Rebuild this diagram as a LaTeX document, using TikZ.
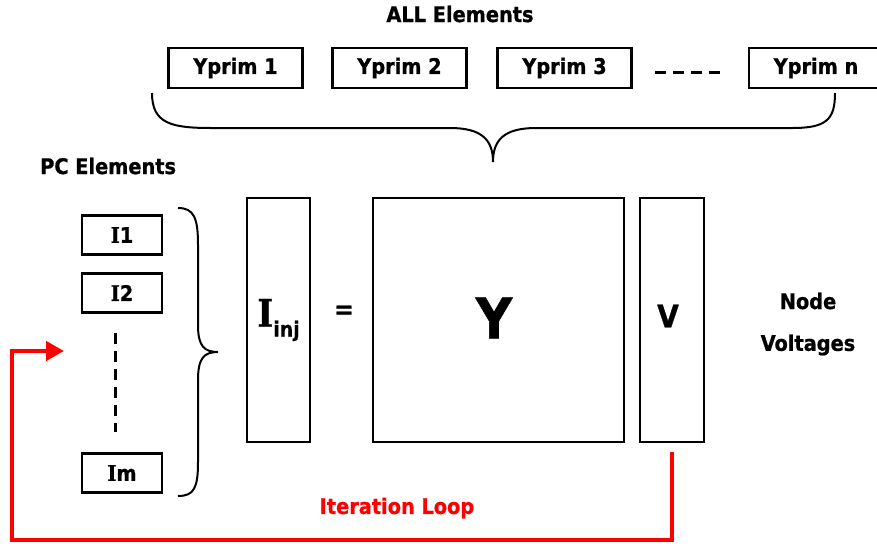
\documentclass[tikz,border=0pt]{standalone}
\usepackage{fontspec}
\setmainfont{DejaVu Sans Condensed}[BoldFont={DejaVu Sans Condensed Bold},BoldFeatures={FakeBold=0.8}]
\newfontfamily\serI{DejaVu Serif Condensed}[BoldFont={DejaVu Serif Condensed Bold},BoldFeatures={FakeBold=0.8}]
\newcommand{\SI}{{\serI\bfseries I}}
\usetikzlibrary{arrows.meta}
\definecolor{loopred}{RGB}{255,0,0}
\begin{document}
\begin{tikzpicture}[x=1pt,y=-1pt,
  every node/.style={font=\bfseries\fontsize{21.5}{24}\selectfont, inner sep=0pt},
  elbox/.style={draw=black, line width=2.6pt, minimum width=134pt, minimum height=40pt},
  ibox/.style={draw=black, line width=2.6pt, minimum width=80pt, minimum height=39pt},
  mat/.style={draw=black, line width=2.6pt, minimum height=244pt},
  bracepath/.style={draw=black, line width=2pt},
  dashline/.style={draw=black, line width=3pt, dash pattern=on 11pt off 7pt},
  looppath/.style={draw=loopred, line width=4.5pt}
]
\useasboundingbox (0,0) rectangle (877,547);
% top
\node (all) at (460,14) {ALL Elements};
\node[elbox] (y1) at (235.5,68) {Yprim 1};
\node[elbox] (y2) at (399.5,68) {Yprim 2};
\node[elbox] (y3) at (564.5,68) {Yprim 3};
\coordinate (dl) at (655,72);
\coordinate (dr) at (724,72);
\draw[dashline] (dl) -- (dr);
\node[elbox] (yn) at (816,68) {Yprim n};
% top brace
\draw[bracepath] (152,93) .. controls (152,124) and (172,128) .. (212,128)
  -- (450,128) .. controls (482,128) and (493,140) .. (493,162)
  .. controls (493,140) and (504,128) .. (536,128)
  -- (792,128) .. controls (826,128) and (835,120) .. (835,93);
% PC elements
\node[anchor=west] (pc) at (40,166) {PC Elements};
\node[ibox] (i1) at (122,235) {\SI1};
\node[ibox] (i2) at (122,293) {\SI2};
\node[ibox] (im) at (122,473) {\SI m};
\coordinate (dtop) at (115,333);
\coordinate (dbot) at (115,432);
\draw[dashline] (dtop) -- (dbot);
% left brace
\draw[bracepath] (178,208) .. controls (194,208) and (198,218) .. (198,245)
  -- (198,325) .. controls (198,346) and (204,352) .. (218,352)
  .. controls (204,352) and (198,358) .. (198,380)
  -- (198,462) .. controls (198,488) and (194,496) .. (178,496);
% matrices
\node[mat, minimum width=63pt] (iinj) at (278.5,320) {};
\node at (iinj.center) {\fontsize{38}{40}\selectfont\SI\raisebox{-0.26em}{\fontsize{21}{22}\selectfont inj}};
\node (eq) at (344,312) {\fontsize{26}{28}\selectfont =};
\node[mat, minimum width=251pt] (ymat) at (498.5,320) {};
\node at (494,318) {\fontsize{56}{58}\selectfont Y};
\node[mat, minimum width=64pt] (vmat) at (672,320) {};
\node at (668,316) {\fontsize{31}{33}\selectfont V};
\node (node) at (808,301) {Node};
\node (volt) at (808,345) {Voltages};
% iteration loop
\coordinate (ls) at (672,452);
\coordinate (lt) at (64,351);
\draw[looppath, -{Triangle[length=18pt,width=19pt]}] (ls) -- (672,540) -- (12,540) -- (12,351) -- (lt);
\node[text=loopred] (loop) at (397,508) {Iteration Loop};
\end{tikzpicture}
\end{document}
